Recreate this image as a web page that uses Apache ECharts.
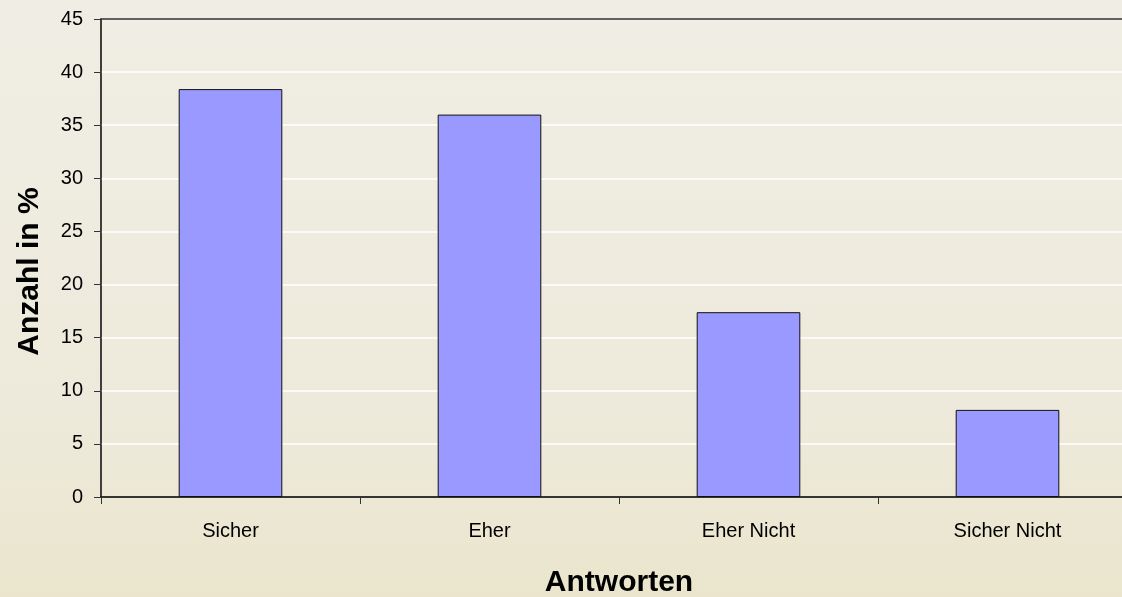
<!DOCTYPE html>
<html>
  <head>
    <meta charset="UTF-8">
    <script src="https://cdn.jsdelivr.net/npm/echarts@6/dist/echarts.min.js"></script>
    <title>Antworten</title>
  </head>
  <body style="margin:0;overflow:hidden;width:1122px;height:597px;">
    <!-- plot area runs past the right edge of the window, as in the original -->
    <div id="main" style="width:1137px;height:597px;"></div>
  </body>
  <script>
    var categories = ['Sicher', 'Eher', 'Eher Nicht', 'Sicher Nicht'];
    var values = [38.4, 36.0, 17.4, 8.2];

    var chart = echarts.init(document.getElementById('main'));
    var font = 'Liberation Sans, Arial, sans-serif';

    option = {
        backgroundColor: new echarts.graphic.LinearGradient(0, 0, 0, 1, [
            {offset: 0, color: '#F0EEE4'},
            {offset: 0.7, color: '#EDEADB'},
            {offset: 1, color: '#EAE5CC'}
        ]),
        animation: false,
        grid: {
            left: 101,
            right: 0,
            top: 19,
            bottom: 100,
            outerBoundsMode: 'none',
            show: true,
            borderColor: '#333',
            borderWidth: 1.5,
            backgroundColor: 'transparent'
        },
        xAxis: {
            type: 'category',
            data: categories,
            name: 'Antworten',
            nameLocation: 'middle',
            nameGap: 71,
            nameTextStyle: {fontFamily: font, fontSize: 30, fontWeight: 'bold', color: '#000'},
            axisLine: {lineStyle: {color: '#000', width: 1.5}},
            axisTick: {show: true, length: 7, lineStyle: {color: '#333'}},
            axisLabel: {fontFamily: font, fontSize: 20, color: '#000', margin: 24}
        },
        yAxis: {
            type: 'value',
            min: 0,
            max: 45,
            interval: 5,
            name: 'Anzahl in %',
            nameLocation: 'middle',
            nameGap: 56,
            nameTextStyle: {fontFamily: font, fontSize: 30, fontWeight: 'bold', color: '#000', padding: [0, 27, 0, 0]},
            axisLine: {show: true, lineStyle: {color: '#333', width: 1.5}},
            axisTick: {show: true, length: 7, lineStyle: {color: '#333'}},
            axisLabel: {fontFamily: font, fontSize: 20, color: '#000', margin: 18},
            splitLine: {showMaxLine: false, lineStyle: {color: '#FFFFFF', width: 1.5}}
        },
        series: [{
            type: 'bar',
            data: values,
            barCategoryGap: '60%',
            itemStyle: {color: '#9999FF', borderColor: '#111', borderWidth: 1}
        }]
    };

    chart.setOption(option);
  </script>
</html>
